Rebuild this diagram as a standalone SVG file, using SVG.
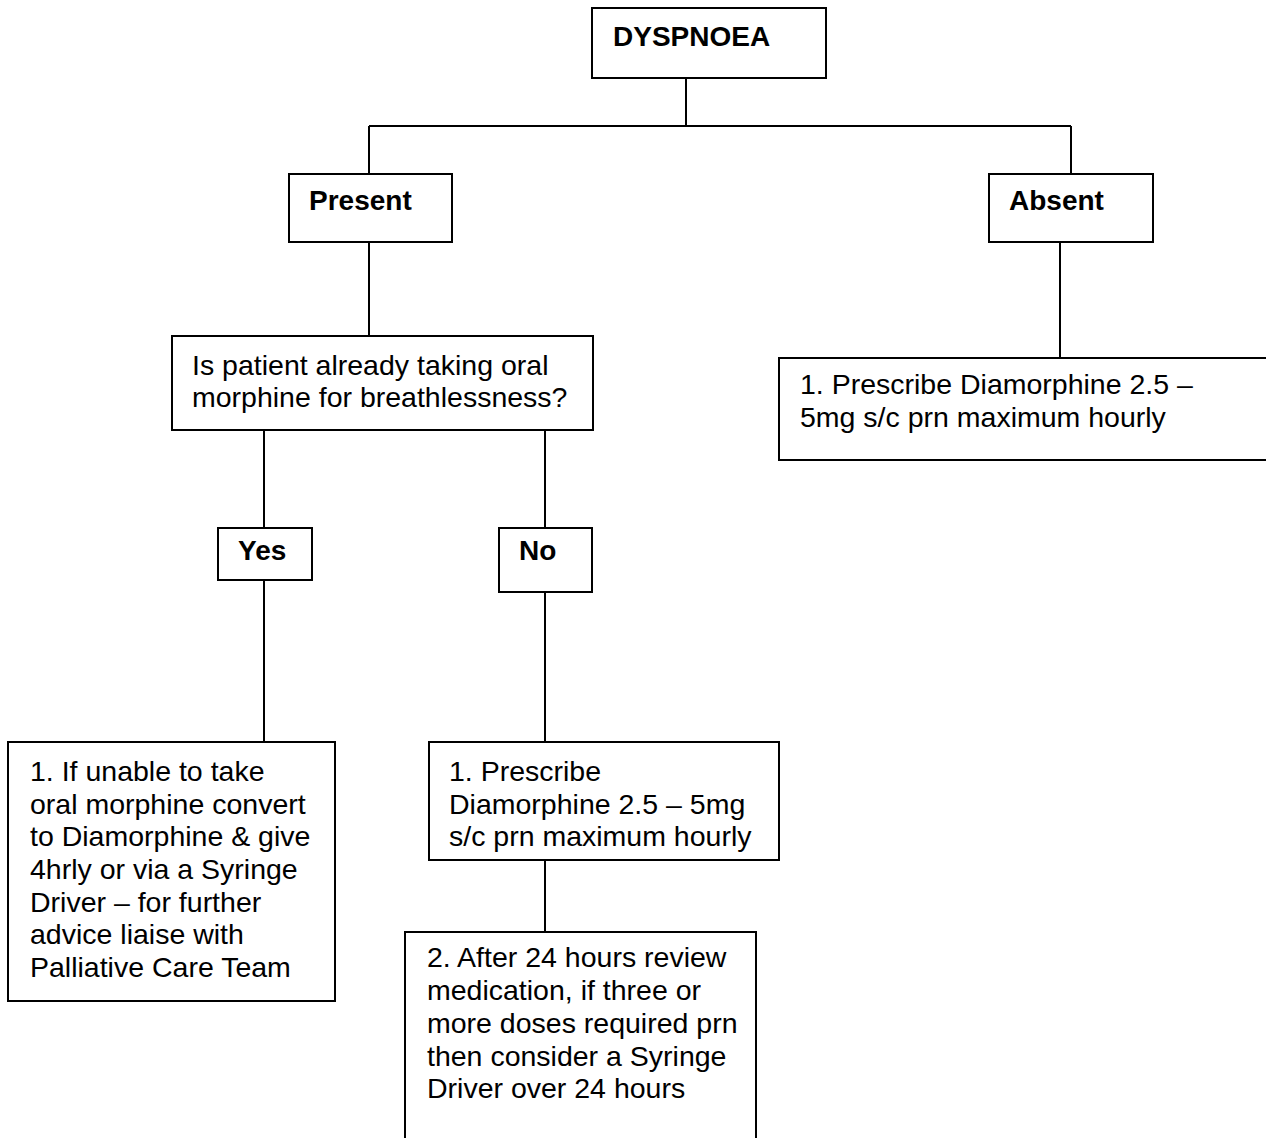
<svg xmlns="http://www.w3.org/2000/svg" width="1266" height="1138" viewBox="0 0 1266 1138">
<style>
.box{fill:#fff;stroke:#000;stroke-width:2}
.ln{fill:none;stroke:#000;stroke-width:2}
text{font-family:"Liberation Sans",Arial,sans-serif;font-size:28.5px;fill:#000}
.b{font-weight:bold;font-size:28px}
</style>
<rect width="1266" height="1138" fill="#fff"/>
<g id="connectors">
<path class="ln" d="M686 78V126M369 126H1071M369 126V174M1071 126V174"/>
<path class="ln" d="M369 242V336"/>
<path class="ln" d="M1060 242V358"/>
<path class="ln" d="M264 430V528M545 430V528"/>
<path class="ln" d="M264 580V742M545 592V742"/>
<path class="ln" d="M545 860V932"/>
</g>
<g id="dyspnoea"><rect class="box" x="592" y="8" width="234" height="70"/><text class="b" x="613" y="46">DYSPNOEA</text></g>
<g id="present"><rect class="box" x="289" y="174" width="163" height="68"/><text class="b" x="309" y="210">Present</text></g>
<g id="absent"><rect class="box" x="989" y="174" width="164" height="68"/><text class="b" x="1009" y="210">Absent</text></g>
<g id="question"><rect class="box" x="172" y="336" width="421" height="94"/><text x="192" y="375">Is patient already taking oral</text><text x="192" y="407">morphine for breathlessness?</text></g>
<g id="absent-action"><rect class="box" x="779" y="358" width="500" height="102"/><text x="800" y="394">1. Prescribe Diamorphine 2.5 –</text><text x="800" y="427">5mg s/c prn maximum hourly</text></g>
<g id="yes"><rect class="box" x="218" y="528" width="94" height="52"/><text class="b" x="238" y="560">Yes</text></g>
<g id="no"><rect class="box" x="499" y="528" width="93" height="64"/><text class="b" x="519" y="560">No</text></g>
<g id="yes-action"><rect class="box" x="8" y="742" width="327" height="259"/>
<text x="30" y="781">1. If unable to take</text><text x="30" y="814">oral morphine convert</text><text x="30" y="846">to Diamorphine &amp; give</text><text x="30" y="879">4hrly or via a Syringe</text><text x="30" y="912">Driver – for further</text><text x="30" y="944">advice liaise with</text><text x="30" y="977">Palliative Care Team</text></g>
<g id="no-action-1"><rect class="box" x="429" y="742" width="350" height="118"/>
<text x="449" y="781">1. Prescribe</text><text x="449" y="814">Diamorphine 2.5 – 5mg</text><text x="449" y="846">s/c prn maximum hourly</text></g>
<g id="no-action-2"><rect class="box" x="405" y="932" width="351" height="220"/>
<text x="427" y="967">2. After 24 hours review</text><text x="427" y="1000">medication, if three or</text><text x="427" y="1033">more doses required prn</text><text x="427" y="1066">then consider a Syringe</text><text x="427" y="1098">Driver over 24 hours</text></g>
</svg>
